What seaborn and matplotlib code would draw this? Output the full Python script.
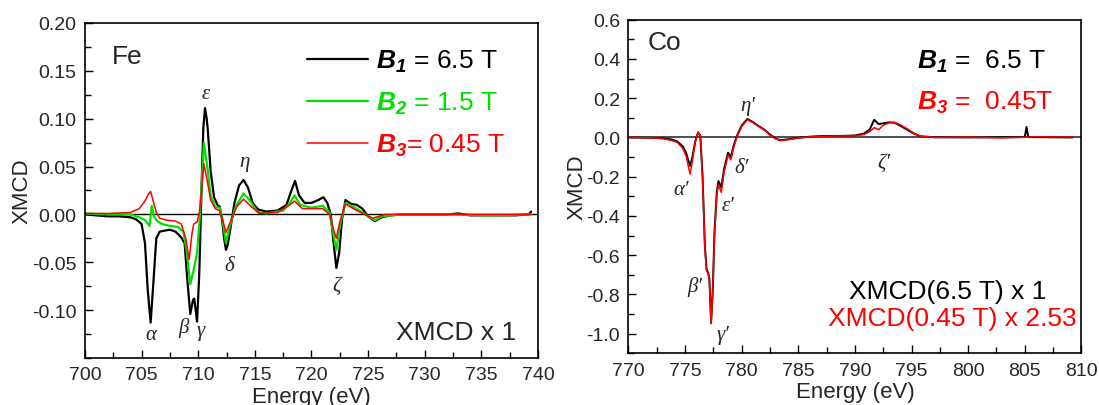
import numpy as np
import matplotlib
matplotlib.use('Agg')
import matplotlib.pyplot as plt
from matplotlib.ticker import MultipleLocator, FixedLocator, FormatStrFormatter
import seaborn as sns

# ---- Fe L-edge XMCD (left panel) ----
fe_b1_e = [700, 701, 702, 703, 704, 704.5, 705, 705.3, 705.55, 705.8, 706.05, 706.3, 706.6, 707, 707.5,
           708, 708.5, 708.8, 709.05, 709.3, 709.55, 709.65, 709.9, 710.1, 710.3, 710.45, 710.6, 710.75,
           710.85, 711.1, 711.4, 711.7, 711.9, 712.1, 712.3, 712.45, 712.6, 712.8, 713.2, 713.6, 714.0,
           714.4, 714.8, 715.3, 716, 717, 717.8, 718.2, 718.55, 718.9, 719.4, 720, 720.6, 721.05, 721.4,
           721.7, 722.0, 722.2, 722.45, 722.7, 723.0, 723.5, 724.0, 724.5, 725.0, 725.6, 726.2, 727, 728,
           730, 732, 733, 734, 736, 738, 739.2, 739.4]
fe_b1 = [0.000, -0.001, -0.002, -0.002, -0.003, -0.005, -0.010, -0.030, -0.080, -0.113, -0.070, -0.025,
         -0.018, -0.017, -0.016, -0.018, -0.024, -0.030, -0.070, -0.104, -0.089, -0.088, -0.112, -0.060,
         0.030, 0.090, 0.111, 0.100, 0.088, 0.045, 0.018, 0.010, 0.008, -0.005, -0.026, -0.037, -0.032,
         -0.018, 0.012, 0.030, 0.036, 0.028, 0.012, 0.005, 0.003, 0.004, 0.010, 0.024, 0.035, 0.020, 0.012,
         0.012, 0.015, 0.018, 0.012, 0.000, -0.035, -0.056, -0.040, -0.005, 0.015, 0.011, 0.010, 0.006,
         -0.002, -0.007, -0.003, -0.001, 0.000, 0.000, 0.000, 0.001, -0.001, -0.001, -0.001, 0.000, 0.003]

fe_b2_e = [700, 702, 704, 704.8, 705.3, 705.7, 705.9, 706.1, 706.4, 706.8, 707.5, 708.2, 708.7, 709.0,
           709.3, 709.6, 709.9, 710.1, 710.3, 710.5, 710.8, 711.1, 711.5, 711.9, 712.1, 712.45, 712.8,
           713.3, 714.0, 714.6, 715.2, 716, 717.5, 718.1, 718.5, 719.0, 720, 721, 721.6, 722.0, 722.2,
           722.5, 723.0, 724.0, 725.0, 725.6, 726.2, 728, 732, 736, 739.4]
fe_b2 = [0.001, 0.000, 0.000, -0.003, -0.006, -0.012, 0.009, -0.002, -0.007, -0.010, -0.012, -0.013,
         -0.018, -0.040, -0.073, -0.058, -0.040, -0.010, 0.030, 0.075, 0.050, 0.020, 0.008, 0.007, -0.002,
         -0.030, -0.012, 0.008, 0.022, 0.014, 0.003, 0.001, 0.004, 0.012, 0.020, 0.010, 0.007, 0.009, 0.002,
         -0.025, -0.037, -0.012, 0.012, 0.006, -0.002, -0.006, -0.002, 0.000, 0.000, -0.001, 0.000]

fe_b3_e = [700, 702, 704, 704.8, 705.3, 705.6, 705.8, 706.0, 706.3, 706.6, 707.2, 708.0, 708.5, 708.9,
           709.2, 709.45, 709.6, 709.9, 710.1, 710.3, 710.5, 710.8, 711.1, 711.5, 711.9, 712.1, 712.45,
           712.9, 713.4, 714.0, 714.7, 715.4, 717, 718.1, 718.5, 719.2, 721, 721.6, 722.0, 722.2, 722.5,
           723.0, 724.0, 725.4, 726.5, 730, 735, 739.4]
fe_b3 = [0.001, 0.001, 0.002, 0.006, 0.014, 0.021, 0.024, 0.015, 0.002, -0.004, -0.006, -0.007, -0.010,
         -0.025, -0.047, -0.020, -0.010, -0.008, 0.002, 0.025, 0.053, 0.035, 0.015, 0.006, 0.004, -0.003,
         -0.019, -0.006, 0.008, 0.016, 0.008, 0.001, 0.002, 0.010, 0.014, 0.006, 0.006, 0.000, -0.018,
         -0.025, -0.008, 0.011, 0.004, -0.004, 0.000, 0.000, 0.000, 0.000]

fe_peaks = ['α', 'β', 'γ', 'ε', 'η', 'δ', 'ζ']
fe_peak_e = [705.8, 708.7, 710.2, 710.7, 714.1, 712.7, 722.2]
fe_peak_y = [-0.125, -0.118, -0.121, 0.126, 0.055, -0.053, -0.074]
fe_yticks = [-0.10, -0.05, 0.00, 0.05, 0.10, 0.15, 0.20]

# ---- Co L-edge XMCD (right panel) ----
co_b1_e = [770, 772, 773, 773.8, 774.3, 774.8, 775.1, 775.3, 775.45, 775.65, 775.9, 776.15, 776.35, 776.55,
           776.75, 776.9, 777.05, 777.15, 777.3, 777.45, 777.6, 777.8, 777.95, 778.2, 778.45, 778.8, 779.05,
           779.3, 779.6, 780.0, 780.5, 781.0, 781.5, 782.0, 782.5, 783.0, 783.4, 784.0, 785.0, 786, 787, 788,
           789, 790, 790.8, 791.3, 791.7, 792.1, 792.5, 793.0, 793.5, 794.0, 794.6, 795.2, 795.8, 797, 800,
           803, 805.0, 805.15, 805.3, 807, 809.2]
co_b1 = [0.000, -0.002, -0.004, -0.010, -0.020, -0.045, -0.080, -0.120, -0.145, -0.100, -0.020, 0.025,
         0.010, -0.200, -0.550, -0.670, -0.690, -0.720, -0.944, -0.780, -0.480, -0.280, -0.222, -0.255,
         -0.160, -0.077, -0.100, -0.040, 0.010, 0.060, 0.094, 0.078, 0.058, 0.040, 0.015, -0.005, -0.014,
         -0.010, -0.002, 0.004, 0.007, 0.008, 0.008, 0.010, 0.020, 0.040, 0.090, 0.068, 0.072, 0.077, 0.075,
         0.060, 0.040, 0.020, 0.006, 0.001, 0.000, 0.001, 0.002, 0.054, 0.002, 0.001, 0.000]

co_b3_e = [770, 772, 773, 773.8, 774.3, 774.8, 775.1, 775.3, 775.45, 775.65, 775.9, 776.15, 776.35, 776.55,
           776.75, 776.9, 777.05, 777.15, 777.3, 777.45, 777.6, 777.8, 777.95, 778.2, 778.45, 778.8, 779.05,
           779.3, 779.6, 780.0, 780.5, 781.0, 781.5, 782.0, 782.5, 783.0, 783.4, 784.0, 785.0, 786, 788, 790,
           790.8, 791.3, 791.7, 792.1, 792.5, 793.0, 793.5, 794.0, 794.6, 795.2, 795.8, 797, 800, 803, 806,
           809.2]
co_b3_scaled = [0.002, -0.002, -0.006, -0.015, -0.025, -0.055, -0.095, -0.150, -0.187, -0.120, -0.025, 0.028,
                0.010, -0.210, -0.560, -0.680, -0.695, -0.725, -0.950, -0.790, -0.500, -0.300, -0.240, -0.280,
                -0.175, -0.090, -0.115, -0.050, 0.005, 0.055, 0.090, 0.076, 0.056, 0.038, 0.012, -0.008, -0.016,
                -0.012, -0.003, 0.003, 0.007, 0.008, 0.015, 0.030, 0.050, 0.040, 0.062, 0.074, 0.077, 0.065,
                0.045, 0.022, 0.006, 0.000, 0.002, -0.002, 0.003, 0.002]

co_peaks = ['α′', 'β′', 'γ′', 'ε′', 'δ′', 'η′', 'ζ′']
co_peak_e = [774.7, 775.9, 778.35, 778.8, 780.0, 780.5, 792.6]
co_peak_y = [-0.264, -0.757, -1.003, -0.349, -0.153, 0.165, -0.128]
co_yticks = [-1.0, -0.8, -0.6, -0.4, -0.2, 0.0, 0.2, 0.4, 0.6]

GREEN = '#00e000'
RED = '#ff0000'

sns.set_theme(style='ticks')
plt.rcParams['font.family'] = ['Liberation Sans', 'DejaVu Sans']
plt.rcParams['axes.unicode_minus'] = False
plt.rcParams['mathtext.fontset'] = 'custom'
plt.rcParams['mathtext.rm'] = 'Liberation Sans'
plt.rcParams['mathtext.it'] = 'Liberation Sans:italic'
plt.rcParams['mathtext.bf'] = 'Liberation Sans:italic:bold'

fig = plt.figure(figsize=(10.99, 4.06), dpi=100)
ax1 = fig.add_axes([0.0773, 0.1158, 0.4122, 0.8251])
ax2 = fig.add_axes([0.5718, 0.1273, 0.4122, 0.8217])

greek_font = dict(family=['Liberation Serif', 'DejaVu Serif'], style='italic', fontsize=15)


def style_axes(ax, xlim, ylim, yticks, ymin, yfmt, ylabelpad):
    ax.set_xlim(*xlim)
    ax.set_ylim(*ylim)
    ax.xaxis.set_major_locator(MultipleLocator(5))
    ax.xaxis.set_minor_locator(MultipleLocator(2.5))
    ax.yaxis.set_major_locator(FixedLocator(yticks))
    ax.yaxis.set_minor_locator(MultipleLocator(ymin))
    ax.yaxis.set_major_formatter(FormatStrFormatter(yfmt))
    ax.tick_params(which='major', direction='in', length=6, width=1, labelsize=14, pad=6, color='black')
    ax.tick_params(which='minor', direction='in', length=4, width=1, color='black')
    for s in ax.spines.values():
        s.set_linewidth(1.2)
        s.set_color('black')
    ax.set_xlabel('Energy (eV)', fontsize=16, labelpad=2)
    ax.set_ylabel('XMCD', fontsize=16, labelpad=ylabelpad)


# 左: Fe
ax1.axhline(0, color='black', lw=1.0, zorder=1)
sns.lineplot(x=fe_b1_e, y=fe_b1, ax=ax1, color='black', lw=1.6, estimator=None, sort=False,
             label=r'$\mathbf{B}_\mathbf{1}$ = 6.5 T')
sns.lineplot(x=fe_b2_e, y=fe_b2, ax=ax1, color=GREEN, lw=1.6, estimator=None, sort=False,
             label=r'$\mathbf{B}_\mathbf{2}$ = 1.5 T')
sns.lineplot(x=fe_b3_e, y=fe_b3, ax=ax1, color=RED, lw=1.1, estimator=None, sort=False,
             label=r'$\mathbf{B}_\mathbf{3}$= 0.45 T')
style_axes(ax1, (700, 740), (-0.15, 0.20), fe_yticks, 0.025, '%.2f', 0)
ax1.legend(loc='upper left', bbox_to_anchor=(0.49, 0.925), frameon=False, fontsize=19,
           handlelength=2.3, handletextpad=0.3, labelspacing=0.6, borderpad=0, borderaxespad=0,
           labelcolor=['black', GREEN, RED])
for name, e, y in zip(fe_peaks, fe_peak_e, fe_peak_y):
    ax1.text(e, y, name, ha='center', va='center', **greek_font)
ax1.text(702.4, 0.166, 'Fe', fontsize=19, ha='left', va='center')
ax1.text(738.1, -0.123, 'XMCD x 1', fontsize=19, ha='right', va='center')

# 右: Co
ax2.axhline(0, color='#404040', lw=1.3, zorder=1)
sns.lineplot(x=co_b1_e, y=co_b1, ax=ax2, color='black', lw=1.4, estimator=None, sort=False)
sns.lineplot(x=co_b3_e, y=co_b3_scaled, ax=ax2, color=RED, lw=1.1, estimator=None, sort=False)
style_axes(ax2, (770, 810), (-1.1, 0.6), co_yticks, 0.1, '%.1f', -1)
for name, e, y in zip(co_peaks, co_peak_e, co_peak_y):
    ax2.text(e, y, name, ha='center', va='center', **greek_font)
ax2.text(771.7, 0.485, 'Co', fontsize=19, ha='left', va='center')
ax2.text(795.5, 0.357, r'$\mathbf{B}_\mathbf{1}$ =  6.5 T', fontsize=19, ha='left', va='baseline', color='black')
ax2.text(795.5, 0.145, r'$\mathbf{B}_\mathbf{3}$ =  0.45T', fontsize=19, ha='left', va='baseline', color=RED)
ax2.text(806.9, -0.782, 'XMCD(6.5 T) x 1', fontsize=19, ha='right', va='center', color='black')
ax2.text(809.6, -0.918, 'XMCD(0.45 T) x 2.53', fontsize=19, ha='right', va='center', color=RED)

fig.savefig('out.png', dpi=100)
